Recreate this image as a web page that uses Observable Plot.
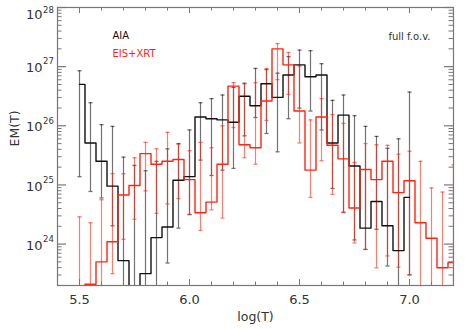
<!DOCTYPE html>
<html><head><meta charset="utf-8">
<script src="https://cdn.jsdelivr.net/npm/d3@7"></script>
<script src="https://cdn.jsdelivr.net/npm/@observablehq/plot@0.6"></script>
<style>body{margin:0;background:#fff}</style>
</head><body><div id="chart"></div>
<script>
// log10(T) grid
const logT = [5.50,5.55,5.60,5.65,5.70,5.75,5.80,5.85,5.90,5.95,6.00,6.05,6.10,6.15,6.20,6.25,6.30,6.35,6.40,6.45,6.50,6.55,6.60,6.65,6.70,6.75,6.80,6.85,6.90,6.95,7.00,7.05,7.10,7.15,7.20];

// AIA: log10 EM, upper and lower error limits (log10)
const aiaEM = [26.70,25.71,25.40,24.98,23.72,22.80,23.50,24.11,24.29,25.08,25.14,26.15,26.12,26.10,26.06,26.50,26.34,26.71,26.48,26.86,27.03,26.83,26.86,25.71,26.18,25.32,24.27,24.72,24.31,23.89,24.79];
const aiaHi = [26.93,26.39,26.02,25.99,25.47,25.33,25.24,25.40,25.61,25.70,25.93,26.39,26.46,26.52,26.65,26.72,26.97,26.95,26.89,27.17,27.28,27.27,27.05,26.43,26.52,26.17,25.99,25.82,25.62,25.78,26.57];
const aiaLo = [25.14,24.89,24.78,24.31,22.50,22.50,22.50,22.50,23.68,24.27,24.50,25.42,25.16,25.25,25.28,25.83,26.14,25.87,25.56,26.12,26.30,26.25,25.93,24.94,24.54,24.07,23.91,24.25,23.63,22.50,23.48];

// EIS+XRT
const eisEM = [22.80,23.32,23.70,24.04,24.83,24.99,25.53,25.35,25.40,25.43,25.09,24.53,24.71,25.35,26.67,25.68,25.63,26.42,27.30,27.03,26.25,25.25,26.15,25.67,25.44,24.61,25.26,25.09,25.40,24.87,25.07,24.36,24.10,23.60,23.69];
const eisHi = [24.46,24.36,24.75,25.19,25.19,25.46,25.72,25.61,25.89,25.69,25.58,25.72,25.63,26.00,26.73,26.71,26.73,26.97,27.39,27.24,27.01,26.10,26.46,26.19,26.04,25.38,25.70,25.68,25.67,25.52,25.57,25.40,24.95,24.88,25.34];
const eisLo = [22.50,22.50,22.50,23.50,24.08,24.42,24.90,24.52,24.68,24.77,24.50,24.23,24.58,24.44,25.97,25.46,25.35,26.09,26.78,26.53,25.71,24.79,25.41,24.84,24.53,24.02,23.91,23.60,23.80,23.61,23.48,22.50,22.50,22.50,22.50];

// ticks
const xMajor = [5.5, 6.0, 6.5, 7.0];
const xMinor = [5.6,5.7,5.8,5.9,6.1,6.2,6.3,6.4,6.6,6.7,6.8,6.9,7.1];
const yDecades = [24, 25, 26, 27, 28];
const yMinorDecades = [23, 24, 25, 26, 27];
const yMinorMult = [2,3,4,5,6,7,8,9];

const W = 465, H = 329, mL = 57, mR = 12, mT = 7, mB = 44;
const fW = W - mL - mR, fH = H - mT - mB;

const mk = (em, hi, lo) => em.map((v, i) => ({T: logT[i], em: 10 ** v, hi: 10 ** hi[i], lo: 10 ** lo[i]}));
const aia = mk(aiaEM, aiaHi, aiaLo);
const eis = mk(eisEM, eisHi, eisLo);

const yMajorVals = [23, ...yDecades].map(d => 10 ** d).filter(v => v >= 10 ** 23.3);
const yMinorVals = yMinorDecades.flatMap(d => yMinorMult.map(m => m * 10 ** d)).filter(v => v >= 10 ** 23.29 && v <= 1e28);

const cap = {draw(ctx, size) { const r = Math.sqrt(size) / 2; ctx.moveTo(-r, 0); ctx.lineTo(r, 0); }};

const BLACK = "#111", RED = "#ff2410", AX = "#777", TXT = "#333";

function errMarks(data, color, op) {
  return [
    Plot.ruleX(data, {x: "T", y1: "lo", y2: "hi", stroke: color, strokeOpacity: op, strokeWidth: 1.2, clip: true}),
    Plot.dot(data, {x: "T", y: "hi", symbol: cap, r: 2.3, fill: "none", stroke: color, strokeOpacity: op, strokeWidth: 1.3, clip: true}),
    Plot.dot(data, {x: "T", y: "lo", symbol: cap, r: 2.3, fill: "none", stroke: color, strokeOpacity: op, strokeWidth: 1.3, clip: true})
  ];
}

const chart = Plot.plot({
  width: W, height: H,
  marginLeft: mL, marginRight: mR, marginTop: mT, marginBottom: mB,
  style: {fontFamily: "DejaVu Sans, sans-serif", background: "#fff"},
  x: {domain: [5.4, 7.2], axis: null},
  y: {type: "log", domain: [10 ** 23.3, 1e28], axis: null},
  marks: [
    ...errMarks(aia, "#000", 0.55),
    ...errMarks(eis, RED, 0.6),
    Plot.line(aia, {x: "T", y: "em", curve: "step", stroke: BLACK, strokeWidth: 1.4, clip: true}),
    Plot.line(eis, {x: "T", y: "em", curve: "step", stroke: RED, strokeWidth: 1.4, clip: true}),
    Plot.frame({stroke: AX, strokeWidth: 1.2}),
    // x ticks bottom & top
    Plot.tickX(xMajor, {x: d => d, insetTop: fH - 6, stroke: AX}),
    Plot.tickX(xMajor, {x: d => d, insetBottom: fH - 6, stroke: AX}),
    Plot.tickX(xMinor, {x: d => d, insetTop: fH - 3.5, stroke: AX}),
    Plot.tickX(xMinor, {x: d => d, insetBottom: fH - 3.5, stroke: AX}),
    // y ticks left & right
    Plot.tickY(yMajorVals, {y: d => d, insetRight: fW - 9, stroke: AX, strokeWidth: 1.2}),
    Plot.tickY(yMajorVals, {y: d => d, insetLeft: fW - 9, stroke: AX, strokeWidth: 1.2}),
    Plot.tickY(yMinorVals, {y: d => d, insetRight: fW - 4.5, stroke: AX}),
    Plot.tickY(yMinorVals, {y: d => d, insetLeft: fW - 4.5, stroke: AX}),
    // x tick labels
    Plot.text(xMajor, {x: d => d, frameAnchor: "bottom", dy: 14, text: d => d.toFixed(1), fontSize: 13, fill: TXT, lineAnchor: "middle"}),
    Plot.text(["log(T)"], {frameAnchor: "bottom", dy: 31, fontSize: 12.5, fill: TXT, lineAnchor: "middle"}),
    // y tick labels 10^n
    Plot.text(yDecades.filter(d => d < 28), {y: d => 10 ** d, frameAnchor: "left", text: () => "10", textAnchor: "end", dx: -15, dy: 1.5, fontSize: 13, fill: TXT, lineAnchor: "middle"}),
    Plot.text(yDecades.filter(d => d < 28), {y: d => 10 ** d, frameAnchor: "left", text: d => String(d), textAnchor: "start", dx: -14.5, dy: -5, fontSize: 8.5, fill: TXT, lineAnchor: "middle"}),
    Plot.text(yDecades.filter(d => d === 28), {y: d => 10 ** d, frameAnchor: "left", text: () => "10", textAnchor: "end", dx: -15, dy: 7, fontSize: 13, fill: TXT, lineAnchor: "middle"}),
    Plot.text(yDecades.filter(d => d === 28), {y: d => 10 ** d, frameAnchor: "left", text: d => String(d), textAnchor: "start", dx: -14.5, dy: 2.5, fontSize: 8.5, fill: TXT, lineAnchor: "middle"}),
    Plot.text(["EM(T)"], {frameAnchor: "left", dx: -43, rotate: -90, fontSize: 12.5, fill: TXT, lineAnchor: "middle"}),
    // legend
    Plot.text(["AIA"], {frameAnchor: "top-left", dx: 55, dy: 28, fontSize: 10, fill: "#111", textAnchor: "start", lineAnchor: "middle"}),
    Plot.text(["EIS+XRT"], {frameAnchor: "top-left", dx: 55, dy: 46, fontSize: 10, fill: RED, textAnchor: "start", lineAnchor: "middle"}),
    Plot.text(["full f.o.v."], {frameAnchor: "top-right", dx: -23, dy: 29, fontSize: 10, fill: TXT, textAnchor: "end", lineAnchor: "middle"})
  ]
});
document.getElementById("chart").appendChild(chart);
</script>
</body></html>
